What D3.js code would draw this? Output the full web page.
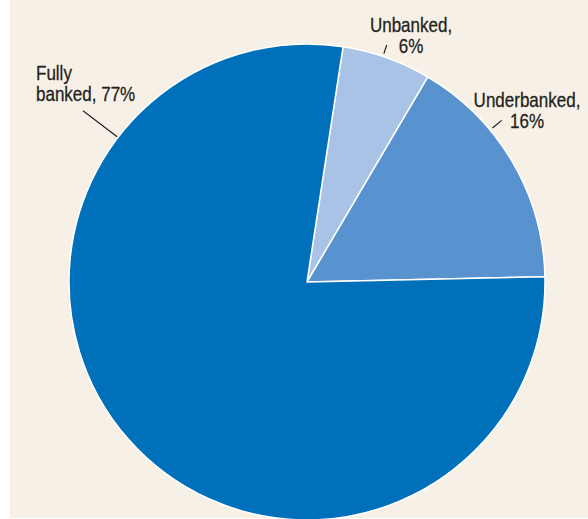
<!DOCTYPE html>
<html>
<head>
<meta charset="utf-8">
<script src="https://cdn.jsdelivr.net/npm/d3@7"></script>
<style>
  html, body { margin: 0; padding: 0; background: #fff; }
  svg { display: block; }
  .lbl { font-family: "Liberation Sans", Arial, sans-serif; font-size: 21px; fill: #231f20; stroke: #231f20; stroke-width: 0.3px; }
</style>
</head>
<body>
<svg id="chart" width="588" height="519"></svg>
<script>
// shares of households, percent
var categories = ['Unbanked', 'Underbanked', 'Fully banked'];
var shares = [6, 16, 77];
var labelLines = [['Unbanked,', '6%'], ['Underbanked,', '16%'], ['Fully', 'banked, 77%']];

var colors = ['#a9c3e6', '#5893d0', '#0070bb'];

var width = 588, height = 519;
var cx = 307, cy = 282, radius = 238;
var squeeze = 0.81; // condensed look for the label face

var svg = d3.select('#chart');

svg.append('rect')
  .attr('x', 10).attr('y', 0)
  .attr('width', width - 10).attr('height', height - 1)
  .attr('fill', '#f7f0e6');

var pie = d3.pie()
  .sort(null)
  .value(function(d) { return d; })
  .startAngle(0.152)
  .endAngle(0.152 + 2 * Math.PI);

var arc = d3.arc().innerRadius(0).outerRadius(radius);

var arcs = pie(shares);

var g = svg.append('g').attr('transform', 'translate(' + cx + ',' + cy + ')');

g.selectAll('path')
  .data(arcs)
  .enter().append('path')
  .attr('d', arc)
  .attr('fill', function(d, i) { return colors[i]; })
  .attr('stroke', '#fff')
  .attr('stroke-width', 1.5)
  .attr('stroke-linejoin', 'round');

// label layout: leader angle (deg), leader radii, text anchor point and alignment
var labelLayout = [
  { angle: 18.6, r0: 241, r1: 250, x: 411, y: 32, lh: 21, anchor: 'middle' },
  { angle: 50.3, r0: 241, r1: 253, x: 527, y: 107, lh: 21, anchor: 'middle' },
  { angle: 307.4, r0: 239, r1: 282, x: 36, y: 80, lh: 21, anchor: 'start' }
];

labelLayout.forEach(function(l, i) {
  var a = l.angle * Math.PI / 180;
  var p0 = d3.pointRadial(a, l.r0), p1 = d3.pointRadial(a, l.r1);
  g.append('line')
    .attr('x1', p0[0]).attr('y1', p0[1])
    .attr('x2', p1[0]).attr('y2', p1[1])
    .attr('stroke', '#231f20')
    .attr('stroke-width', 1.2);

  labelLines[i].forEach(function(line, j) {
    svg.append('text')
      .attr('class', 'lbl')
      .attr('text-anchor', l.anchor)
      .attr('transform', 'translate(' + l.x + ',' + (l.y + j * l.lh) + ') scale(' + squeeze + ',1)')
      .text(line);
  });
});
</script>
</body>
</html>
